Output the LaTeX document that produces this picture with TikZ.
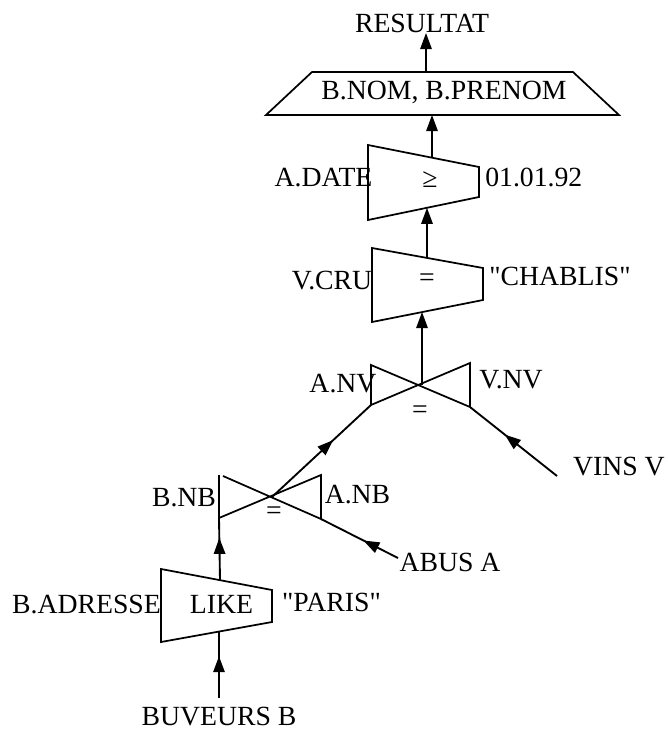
\documentclass[tikz,border=0pt]{standalone}
\usepackage{fontspec}
\setmainfont{Liberation Serif}[Ligatures=TeXOff]
\usetikzlibrary{arrows.meta,decorations.markings}

\begin{document}
\begin{tikzpicture}[x=0.75pt,y=-0.75pt,
  outline/.style={line width=1.3pt, line join=miter},
  lbl/.style={font=\fontsize{20.8pt}{24pt}\selectfont, inner sep=0pt, anchor=base},
  opsym/.style={font=\fontsize{20.8pt}{24pt}\selectfont, inner sep=0pt, anchor=center},
  flow/.style={line width=1.4pt, -{Triangle[length=12pt,width=8.5pt]}},
  midflow/.style={line width=1.4pt, postaction={decorate},
    decoration={markings, mark=at position #1 with {\arrow{Triangle[length=12pt,width=8.5pt]}}}}]

\useasboundingbox (0,0) rectangle (668,729);

% --- projection B.NOM, B.PRENOM ---
\draw[outline] (312,72) -- (573,72) -- (619,115) -- (266,115) -- cycle;
\node[lbl] (proj) at (444,99) {B.NOM, B.PRENOM};
\node[lbl] (res) at (422,32) {RESULTAT};
\coordinate (projtop) at (426,72);
\coordinate (restip) at (426,33);
\coordinate (projbot) at (432,115);

% --- selection A.DATE >= 01.01.92 ---
\draw[outline] (368,145) -- (479,167) -- (479,197) -- (368,220) -- cycle;
\node[lbl] (adate) at (323.5,186) {A.DATE};
\node[opsym] (geq) at (430,180) {≥};
\node[lbl, anchor=base west] (d92) at (485,186) {01.01.92};
\coordinate (datetop) at (432,157.7);
\coordinate (datebot) at (427,207.8);

% --- selection V.CRU = "CHABLIS" ---
\draw[outline] (372,248) -- (483,268) -- (483,300) -- (372,322) -- cycle;
\node[lbl] (vcru) at (332,289) {V.CRU};
\node[opsym] (eqcru) at (427,280) {=};
\node[lbl] (chab) at (560,285) {"CHABLIS"};
\coordinate (crutop) at (427,257.9);
\coordinate (crubot) at (422,312);

% --- join A.NV = V.NV ---
\draw[outline] (371,365) -- (470,407) -- (470,363) -- (371,405) -- cycle;
\coordinate (jnv) at (422,385);
\coordinate (jnvl) at (371,405);
\coordinate (jnvr) at (470,407);
\node[lbl] (anv) at (343,392) {A.NV};
\node[lbl] (vnv) at (511,388) {V.NV};
\node[opsym] (eqnv) at (420,412) {=};

% --- join B.NB = A.NB ---
\draw[outline] (219,475) -- (219,518) -- (321,475) -- (321,519) -- (223,476);
\coordinate (jnb) at (272,497);
\coordinate (jnbl) at (219,518);
\coordinate (jnbr) at (321,519);
\node[lbl] (bnb) at (184,506) {B.NB};
\node[lbl] (anb) at (357.5,503) {A.NB};
\node[opsym] (eqnb) at (274,513) {=};

% --- selection B.ADRESSE LIKE "PARIS" ---
\draw[outline] (161,569) -- (272,590) -- (272,622) -- (161,642) -- cycle;
\node[lbl] (badr) at (86.5,613) {B.ADRESSE};
\node[lbl] (like) at (221.5,613) {LIKE};
\node[lbl] (paris) at (331.5,611) {"PARIS"};
\coordinate (liketop) at (220,580);
\coordinate (likebot) at (219,631.5);

% --- base relations ---
\node[lbl] (buv) at (219,725) {BUVEURS B};
\node[lbl] (abus) at (450,571) {ABUS A};
\node[lbl, anchor=base east] (vins) at (665,475) {VINS V};
\coordinate (buvend) at (219,698);
\coordinate (abusend) at (398,558);
\coordinate (vinsend) at (557,476);

% --- data flow ---
\draw[flow] (projtop) -- (restip);
\draw[flow] (datetop) -- (projbot);
\draw[flow] (crutop) -- (datebot);
\draw[flow] (jnv) -- (crubot);
\draw[midflow=0.62] (jnb) -- (jnvl);
\draw[midflow=0.6] (vinsend) -- (jnvr);
\draw[midflow=0.45] (abusend) -- (jnbr);
\draw[midflow=0.68] (liketop) -- (jnbl);
\draw[midflow=0.63] (buvend) -- (likebot);

\end{tikzpicture}
\end{document}
